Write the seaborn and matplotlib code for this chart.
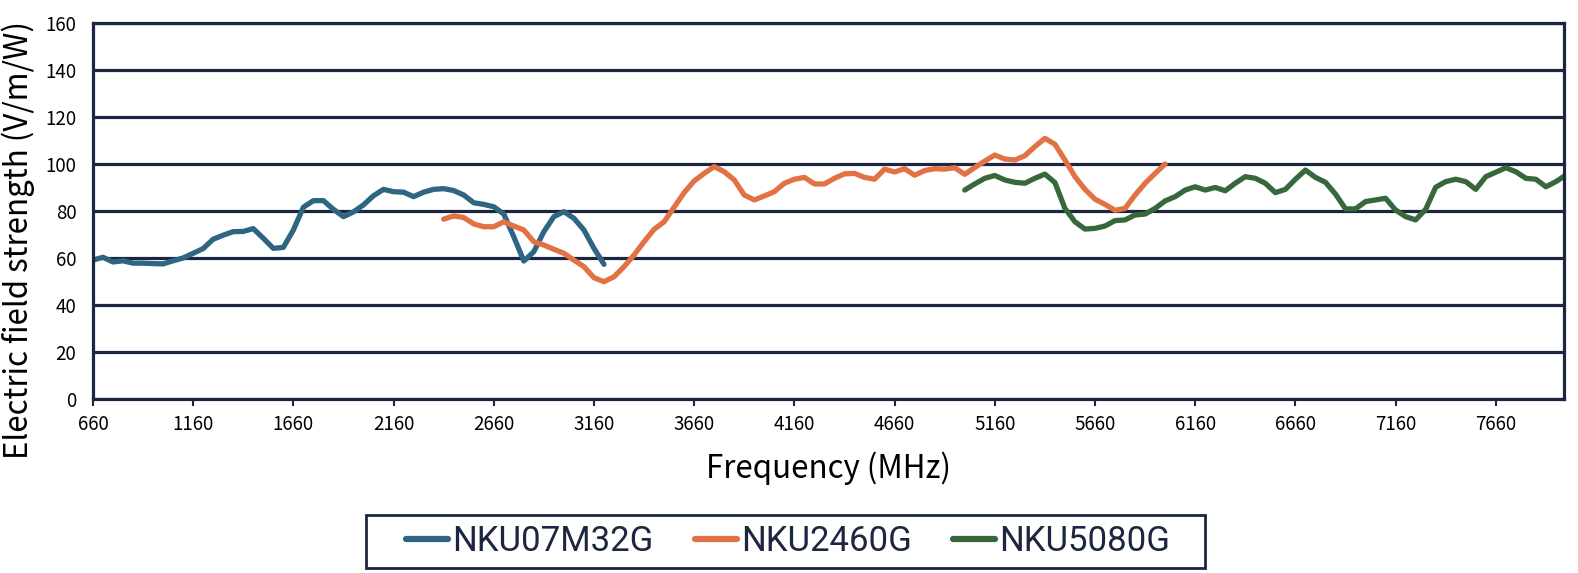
import numpy as np
import pandas as pd
import seaborn as sns
import matplotlib
matplotlib.use("Agg")
from matplotlib import pyplot as plt

# data, 50 MHz sampling
step = 50

nku07_start = 660
nku07_vals = [59.1, 60.3, 58.3, 58.8, 57.8, 57.8, 57.6, 57.5, 58.8, 60.0,
              62.0, 64.0, 68.0, 69.7, 71.2, 71.3, 72.5, 68.4, 64.1, 64.5,
              71.9, 81.6, 84.4, 84.4, 80.7, 77.6, 79.6, 82.6, 86.5, 89.2,
              88.2, 88.0, 86.1, 88.0, 89.2, 89.5, 88.7, 86.8, 83.5, 82.8,
              81.8, 78.7, 69.0, 58.7, 62.7, 71.2, 77.6, 79.7, 76.9, 71.9,
              64.1, 57.3]

nku2460_start = 2410
nku2460_vals = [76.5, 77.9, 77.2, 74.5, 73.3, 73.3, 75.4, 73.6, 71.9, 66.9,
                65.5, 63.7, 62.0, 59.1, 56.3, 51.6, 49.9, 52.0, 56.3, 61.3,
                66.9, 72.2, 75.4, 81.6, 87.8, 92.8, 96.0, 98.9, 96.7, 93.2,
                86.8, 84.7, 86.4, 88.2, 91.8, 93.5, 94.3, 91.5, 91.5, 93.9,
                95.8, 96.0, 94.3, 93.5, 97.8, 96.6, 98.0, 95.2, 97.2, 98.0,
                97.8, 98.4, 95.6, 98.5, 101.2, 103.8, 102.1, 101.7, 103.5, 107.4,
                110.9, 108.4, 101.7, 94.6, 89.2, 85.0, 82.8, 80.3, 81.1, 86.8,
                91.8, 96.0, 100.0]

nku5080_start = 5010
nku5080_vals = [88.9, 91.5, 93.9, 95.1, 93.2, 92.2, 91.8, 93.9, 95.7, 92.1,
                81.1, 75.4, 72.3, 72.6, 73.6, 75.9, 76.2, 78.3, 78.7, 81.1,
                84.3, 86.1, 88.9, 90.3, 88.9, 90.0, 88.6, 91.8, 94.6, 93.9,
                91.8, 87.8, 89.2, 93.5, 97.4, 94.3, 92.2, 87.2, 80.9, 80.9,
                84.0, 84.7, 85.4, 80.4, 77.6, 76.2, 80.7, 90.1, 92.5, 93.5,
                92.5, 89.2, 94.6, 96.5, 98.4, 96.7, 93.9, 93.5, 90.3, 92.5,
                95.3]

names = ["NKU07M32G", "NKU2460G", "NKU5080G"]
colors = ["#2E6583", "#E27144", "#37683C"]
x_ticks = list(range(660, 7661, 500))
y_ticks = list(range(0, 161, 20))

frames = []
for name, start, vals in zip(names, [nku07_start, nku2460_start, nku5080_start],
                             [nku07_vals, nku2460_vals, nku5080_vals]):
    freq = start + step * np.arange(len(vals))
    frames.append(pd.DataFrame({"freq": freq, "val": vals, "model": name}))
df = pd.concat(frames, ignore_index=True)

sns.set_theme(style="white")
plt.rcParams['font.family'] = ['Noto Sans CJK JP', 'DejaVu Sans']

navy = "#1C2640"
fig = plt.figure(figsize=(15.78, 5.73), dpi=100)
ax = fig.add_axes([0.0589, 0.3037, 0.9322, 0.6562])

sns.lineplot(data=df, x="freq", y="val", hue="model", palette=colors,
             hue_order=names, linewidth=3.8, ax=ax, legend=True,
             solid_capstyle="round", solid_joinstyle="round")

ax.set_xlim(660, 8000)
ax.set_ylim(0, 160)
ax.set_xticks(x_ticks)
ax.set_yticks(y_ticks)
ax.yaxis.grid(True, color=navy, linewidth=2.3)
ax.set_axisbelow(True)
for s in ax.spines.values():
    s.set_color(navy)
    s.set_linewidth(2.3)
ax.tick_params(axis="x", length=5, width=1.5, color=navy, pad=6,
               labelsize=13.5, labelcolor="black", bottom=True)
ax.tick_params(axis="y", length=0, pad=12, labelsize=13.5, labelcolor="black")

ax.set_xlabel("Frequency (MHz)", fontsize=22.5, labelpad=12, color="black")
ax.set_ylabel("Electric field strength (V/m/W)", fontsize=22.5, color="black")
ax.yaxis.set_label_coords(-0.0392, 0.422)

handles, labels = ax.get_legend_handles_labels()
ax.get_legend().remove()
leg = fig.legend(handles, labels, loc="center", bbox_to_anchor=(0.4994, 0.0550),
                 ncol=3, frameon=False, handlelength=1.2, handletextpad=0.12,
                 columnspacing=1.2, borderpad=0.25, borderaxespad=0,
                 prop={"family": ["Roboto", "DejaVu Sans"], "size": 25})
for t in leg.get_texts():
    t.set_color(navy)
for h in leg.get_lines():
    h.set_linewidth(4.5)
    h.set_solid_capstyle("round")

# legend box, wider than the entries like the original
box = plt.Rectangle((366 / 1578, 1 - 568 / 573), (1205 - 366) / 1578, 53 / 573,
                    transform=fig.transFigure, fill=False, edgecolor=navy,
                    linewidth=2)
fig.patches.append(box)

fig.savefig("out.png", dpi=100)
